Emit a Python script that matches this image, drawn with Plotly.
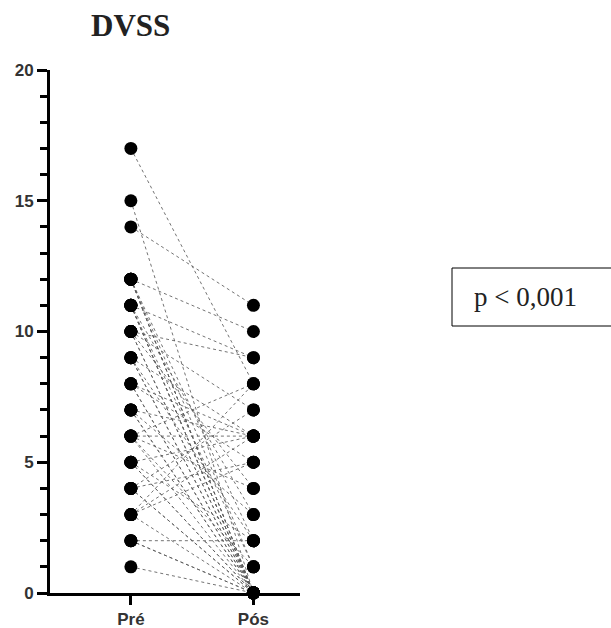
import plotly.graph_objects as go

groups = ["Pré", "Pós"]
pre = [17, 15, 14, 12, 12, 12, 12, 12, 12, 11, 11, 11, 11, 11, 11, 10, 10, 10, 10, 10,
       9, 9, 9, 9, 8, 8, 8, 8, 7, 7, 7, 7, 6, 6, 6, 6, 6, 5, 5, 5, 5, 4, 4, 4, 4,
       3, 3, 3, 3, 2, 2, 2, 1]
pos = [8, 0, 11, 10, 0, 0, 1, 2, 0, 9, 0, 0, 3, 0, 1, 9, 0, 0, 4, 7,
       0, 6, 0, 2, 0, 5, 6, 0, 0, 3, 6, 0, 6, 0, 4, 1, 8, 0, 6, 2, 0, 0, 7, 5, 0,
       6, 0, 5, 8, 2, 0, 0, 0]
title = "DVSS"
p_text = "p < 0,001"

fig = go.Figure()

lx, ly = [], []
for a, b in zip(pre, pos):
    lx += [0, 1, None]
    ly += [a, b, None]
fig.add_trace(go.Scatter(x=lx, y=ly, mode="lines",
                         line=dict(color="rgba(90,90,90,0.85)", width=1, dash="dot"),
                         hoverinfo="skip", showlegend=False))
fig.add_trace(go.Scatter(x=[0] * len(pre) + [1] * len(pos), y=pre + pos, mode="markers",
                         marker=dict(color="black", size=13),
                         cliponaxis=False, showlegend=False))

fig.update_layout(
    width=611, height=628,
    margin=dict(l=50, r=311, t=70, b=35),
    plot_bgcolor="white", paper_bgcolor="white",
    xaxis=dict(range=[-0.66, 1.38], tickvals=[0, 1],
               ticktext=["<b>%s</b>" % g for g in groups],
               showline=True, linecolor="black", linewidth=3,
               ticks="outside", ticklen=9, tickwidth=3, tickcolor="black",
               showgrid=False, zeroline=False, automargin=False,
               tickfont=dict(family="Liberation Sans, Arial", size=17, color="#333")),
    yaxis=dict(range=[0, 20], tickvals=[0, 5, 10, 15, 20],
               ticktext=["<b>%d</b>" % v for v in [0, 5, 10, 15, 20]],
               showline=True, linecolor="black", linewidth=3,
               ticks="outside", ticklen=10, tickwidth=3, tickcolor="black",
               minor=dict(dtick=1, ticks="outside", ticklen=7, tickwidth=2.5, tickcolor="black"),
               showgrid=False, zeroline=False, automargin=False,
               tickfont=dict(family="Liberation Sans, Arial", size=17, color="#333")),
)

fig.add_annotation(text="<b>%s</b>" % title, xref="x", x=0, yref="paper", y=1.085,
                   xanchor="center", yanchor="middle", showarrow=False,
                   font=dict(family="Liberation Serif, Times New Roman", size=31, color="#222"))

fig.add_shape(type="rect", xref="paper", yref="paper", x0=1.608, x1=2.4,
              y0=0.5105, y1=0.6214, line=dict(color="black", width=1))
fig.add_annotation(text=p_text, xref="paper", x=1.688, yref="paper", y=0.566,
                   xanchor="left", yanchor="middle", showarrow=False,
                   font=dict(family="Liberation Serif, Times New Roman", size=27, color="#222"))

fig.write_html("out.html")
